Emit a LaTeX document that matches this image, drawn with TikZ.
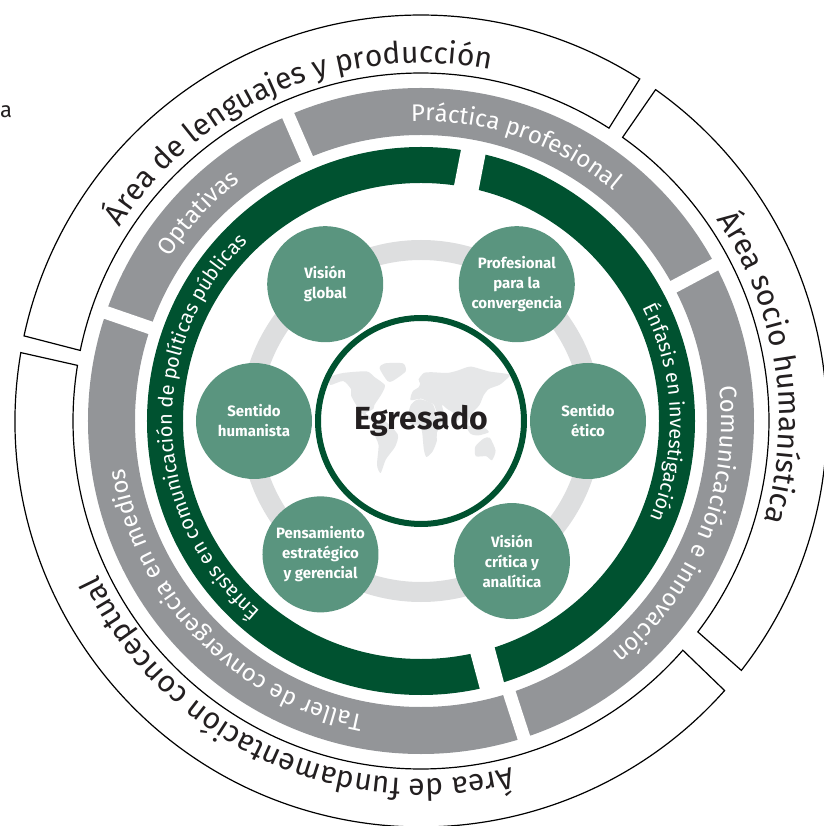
\documentclass[tikz,border=0pt]{standalone}
\usepackage{fontspec}
\setmainfont{Fira Sans}
\usetikzlibrary{decorations.text}
\definecolor{dkgreen}{RGB}{0,82,48}
\definecolor{midgreen}{RGB}{90,149,127}
\definecolor{bandgray}{RGB}{147,149,152}
\definecolor{ringgray}{RGB}{221,222,223}
\definecolor{mapgray}{RGB}{230,231,232}
\definecolor{inkblack}{RGB}{35,31,32}
% text on a clockwise arc: radius, middle angle, half span, format, text
\newcommand{\arctext}[5]{\path[decorate,decoration={text along path,text align=center,text={|#4|#5}}]
  ({#2+#3}:#1) arc[start angle={#2+#3},end angle={#2-#3},radius=#1];}

\begin{document}
\begin{tikzpicture}[x=1pt,y=1pt,
  trait/.style={circle,fill=midgreen,minimum size=116,inner sep=0,text=white,align=center,
    font=\bfseries\fontsize{15}{20}\selectfont},
  area/.style={draw=black,line width=1.2pt,fill=white}]
  \useasboundingbox (-421,-405) rectangle (402,421);
  \node[anchor=base west,inner sep=0,font=\fontsize{22}{24}\selectfont,text=inkblack] (frag) at (-421,303) {a};
  % outer areas
  \draw[area] (57.4:406) arc[start angle=57.4,end angle=167.9,radius=406] -- (168.3:348)
    arc[start angle=168.3,end angle=57.3,radius=348] -- cycle;
  \draw[area] (-37.9:406) arc[start angle=-37.9,end angle=54.7,radius=406] -- (54.6:348)
    arc[start angle=54.6,end angle=-37.3,radius=348] -- cycle;
  \draw[area] (170.3:406) arc[start angle=170.3,end angle=318.4,radius=406] -- (318.8:348)
    arc[start angle=318.8,end angle=170.8,radius=348] -- cycle;
  \arctext{358}{113}{75}{\fontsize{30}{32}\selectfont\color{inkblack}}{Área de lenguajes y producción}
  \arctext{358}{9}{75}{\fontsize{30}{32}\selectfont\color{inkblack}}{Área socio humanística}
  \arctext{358}{-115}{75}{\fontsize{30}{32}\selectfont\color{inkblack}}{Área de fundamentación conceptual}
  % gray band
  \draw[bandgray,line width=47pt] (0,0) circle (309.5);
  \foreach \a in {113.5,28,-72,161} \draw[white,line width=13pt] (\a:280) -- (\a:340);
  \arctext{300}{137}{40}{\fontsize{24}{26}\selectfont\color{white}}{Optativas}
  \arctext{300}{71}{50}{\fontsize{24}{26}\selectfont\color{white}}{Práctica profesional}
  \arctext{300}{-22}{50}{\fontsize{24}{26}\selectfont\color{white}}{Comunicación e innovación}
  \arctext{300}{-136}{60}{\fontsize{24}{26}\selectfont\color{white}}{Taller de convergencia en medios}
  % green band
  \draw[dkgreen,line width=36pt] (0,0) circle (256);
  \foreach \a in {79,-75} \draw[white,line width=25pt] (\a:230) -- (\a:282);
  \arctext{249}{182}{75}{\fontsize{20}{22}\selectfont\color{white}}{Énfasis en comunicación de políticas públicas}
  \arctext{249}{2}{50}{\fontsize{20}{22}\selectfont\color{white}}{Énfasis en investigación}
  % profile ring
  \draw[ringgray,line width=20pt] (0,0) circle (171);
  \fill[white] (0,0) circle (103);
  \begin{scope}[shift={(-5,-8)},x=0.52pt,y=0.8pt]
    \fill[mapgray] plot[smooth cycle,tension=0.4] coordinates {(-165,65) (-140,70) (-95,72) (-80,65)
      (-60,55) (-65,45) (-80,30) (-82,25) (-97,20) (-88,15) (-80,8) (-105,20) (-115,30) (-125,42)
      (-125,50) (-140,60) (-165,55)};
    \fill[mapgray] plot[smooth cycle,tension=0.4] coordinates {(-55,60) (-45,60) (-20,72) (-25,82)
      (-60,82) (-70,76)};
    \fill[mapgray] plot[smooth cycle,tension=0.4] coordinates {(-80,10) (-60,10) (-35,-7) (-40,-22)
      (-58,-38) (-68,-55) (-75,-45) (-72,-20) (-81,-5)};
    \fill[mapgray] plot[smooth cycle,tension=0.4] coordinates {(-10,36) (-9,43) (-5,48) (5,52) (8,57)
      (5,62) (15,70) (30,71) (60,70) (80,73) (105,78) (140,72) (180,68) (170,60) (160,55) (140,50)
      (130,42) (122,30) (108,20) (100,10) (103,2) (95,15) (90,22) (80,10) (72,20) (60,25) (50,30)
      (55,15) (45,12) (35,30) (30,32) (20,35) (10,38)};
    \fill[mapgray] plot[smooth cycle,tension=0.4] coordinates {(-17,15) (-10,30) (0,36) (10,37)
      (32,31) (43,12) (51,11) (40,-5) (40,-15) (32,-28) (20,-35) (15,-25) (12,-5) (8,4) (-8,5) (-17,12)};
    \fill[mapgray] plot[smooth cycle,tension=0.4] coordinates {(114,-22) (130,-12) (142,-11)
      (153,-27) (146,-39) (135,-34) (115,-34)};
    \fill[mapgray] plot[smooth cycle,tension=0.4] coordinates {(95,5) (105,-6) (120,-8) (140,-4)
      (130,2) (110,2)};
  \end{scope}
  \node[circle,draw=dkgreen,line width=6pt,minimum size=206,inner sep=0,text=inkblack,
    font=\bfseries\fontsize{32}{34}\selectfont] (egr) at (0,0) {Egresado};
  % profile traits
  \node[trait] (vglobal) at (125:167) {Visión\\global};
  \node[trait] (pconv) at (55:167) {Profesional\\para la\\convergencia};
  \node[trait] (setico) at (0:167) {Sentido\\ético};
  \node[trait] (vcritica) at (-57:167) {Visión\\crítica y\\analítica};
  \node[trait] (pestrat) at (-127:167) {Pensamiento\\estratégico\\y gerencial};
  \node[trait] (shuman) at (180:167) {Sentido\\humanista};
\end{tikzpicture}
\end{document}
